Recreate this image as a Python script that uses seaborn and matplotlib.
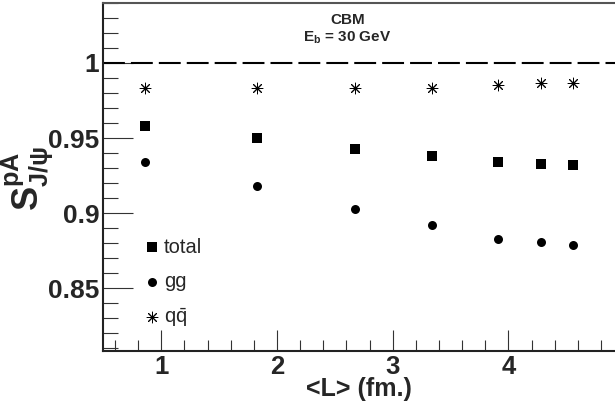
import matplotlib
matplotlib.use("Agg")
import matplotlib.pyplot as plt
from matplotlib.ticker import MultipleLocator
import seaborn as sns

# ---- data ----
L_fm = [0.86, 1.83, 2.67, 3.34, 3.91, 4.28, 4.56]
S_total = [0.958, 0.950, 0.943, 0.938, 0.934, 0.933, 0.932]
S_gg = [0.934, 0.918, 0.903, 0.892, 0.883, 0.881, 0.879]
S_qq = [0.983, 0.983, 0.9833, 0.9835, 0.985, 0.9865, 0.9867]
series_labels = ["total", "gg", r"$\mathrm{q\bar{q}}$"]
x_ticks = [1, 2, 3, 4]
x_ticklabels = ["1", "2", "3", "4"]
y_ticks = [0.85, 0.90, 0.95, 1.00]
y_ticklabels = ["0.85", "0.9", "0.95", "1"]
annot_lines = ["CBM", r"$\mathbf{E_b}$ = 30 GeV"]

sns.set_theme(style="ticks")
plt.rcParams["font.family"] = ["Liberation Sans", "DejaVu Sans"]
plt.rcParams["mathtext.fontset"] = "custom"
plt.rcParams["mathtext.rm"] = "Liberation Sans"
plt.rcParams["mathtext.it"] = "Liberation Sans:italic"
plt.rcParams["mathtext.bf"] = "Liberation Sans:bold"

fig, ax = plt.subplots(figsize=(6.15, 4.2), dpi=100)
fig.subplots_adjust(left=0.168, right=1.0, bottom=0.164, top=0.993)

ax.axhline(1.0, color="black", lw=1.5, dashes=(10.5, 2.9), zorder=1)

sns.scatterplot(x=L_fm, y=S_total, marker="s", color="black", s=44,
                linewidth=0, label=series_labels[0], ax=ax, zorder=3)
sns.scatterplot(x=L_fm, y=S_gg, marker="o", color="black", s=42,
                linewidth=0, label=series_labels[1], ax=ax, zorder=3)
sns.scatterplot(x=L_fm, y=S_qq, marker=(8, 2, 0), color="black", s=60,
                linewidth=0.7, edgecolor="black", label=series_labels[2], ax=ax, zorder=3)

ax.set_xlim(0.5, 4.92)
ax.set_ylim(0.808, 1.04)

ax.set_xticks(x_ticks, labels=x_ticklabels, fontweight="bold", fontsize=18.5)
ax.set_yticks(y_ticks, labels=y_ticklabels, fontweight="bold", fontsize=19)
ax.xaxis.set_minor_locator(MultipleLocator(0.2))
ax.yaxis.set_minor_locator(MultipleLocator(0.01))
ax.tick_params(axis="y", which="major", direction="in", length=21.5, width=0.8,
               color="#333333", pad=3)
ax.tick_params(axis="y", which="minor", direction="in", length=10.8, width=0.8,
               color="#333333")
ax.tick_params(axis="x", which="major", direction="in", length=15, width=0.8,
               color="#333333", pad=3)
ax.tick_params(axis="x", which="minor", direction="in", length=8, width=0.8,
               color="#333333")

for side in ["left", "bottom"]:
    ax.spines[side].set_color("#222222")
    ax.spines[side].set_linewidth(1.5)
ax.spines["top"].set_visible(True)
ax.spines["top"].set_color("#555555")
ax.spines["top"].set_linewidth(1.5)
ax.spines["right"].set_visible(False)

ax.set_xlabel("<L> (fm.)", fontsize=18, fontweight="bold")
ax.set_ylabel(r"$\mathbf{S^{pA}_{J/\psi}}$", fontsize=26)
ax.yaxis.set_label_coords(-0.094, 0.495)
ax.xaxis.set_label_coords(0.5, -0.074)

ax.text(2.61, 1.0285, annot_lines[0], ha="center", va="center",
        fontsize=11, fontweight="bold")
ax.text(2.61, 1.0165, annot_lines[1], ha="center", va="center",
        fontsize=11, fontweight="bold")

ax.legend(loc="center left", bbox_to_anchor=(0.079, 0.195), frameon=False,
          fontsize=14.5, handlelength=0.8, handletextpad=0.2, labelspacing=0.75,
          borderpad=0, borderaxespad=0)

fig.savefig("out.png", dpi=100)
